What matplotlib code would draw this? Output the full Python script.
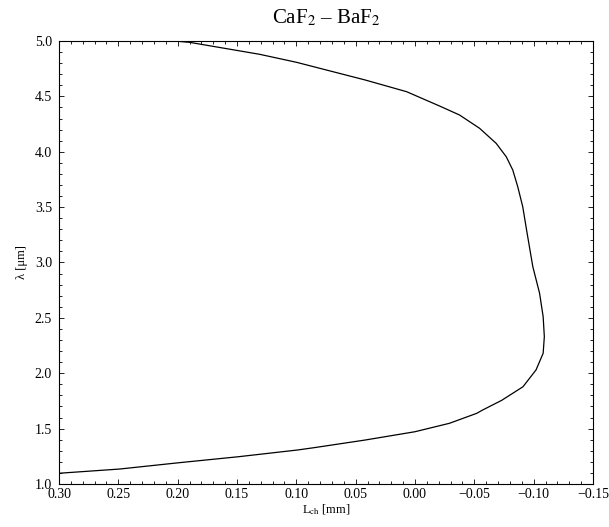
"""CaF2 - BaF2 : wavelength vs L_ch"""

import numpy as np
import matplotlib.pyplot as plt
from matplotlib.ticker import MultipleLocator

# curve (lambda in um, L_ch in mm)
wavelength = [1.097, 1.135, 1.192, 1.246, 1.307, 1.328, 1.397, 1.472, 1.548,
              1.638, 1.668, 1.755, 1.878, 2.030, 2.180, 2.330, 2.511, 2.722,
              2.962, 3.264, 3.504, 3.684, 3.835, 3.955, 4.076, 4.212,
              4.332, 4.413, 4.542, 4.648, 4.808, 4.880, 4.988, 5.000]
l_ch = [0.300, 0.249, 0.199, 0.149, 0.099, 0.085, 0.042, 0.000, -0.029,
        -0.052, -0.057, -0.073, -0.091, -0.102, -0.108, -0.109, -0.108, -0.105,
        -0.0993, -0.0945, -0.0908, -0.0866, -0.0824, -0.0769, -0.0684,
        -0.0544, -0.0375, -0.0207, 0.007, 0.042, 0.100, 0.131, 0.190, 0.203]

plt.rcParams['font.family'] = ['Liberation Serif', 'DejaVu Serif']
plt.rcParams['mathtext.fontset'] = 'stix'


def fmt_x(v, pos):
    if abs(v) < 1e-9:
        return '0.00'
    return ('%.2f' % v).replace('-', '\u2212')


def plot_curve():
    fig = plt.figure(figsize=(6.09, 5.27), dpi=100)
    ax = fig.add_axes([0.0969, 0.0816, 0.8768, 0.8406])

    ax.plot(l_ch, wavelength, color='black', linewidth=0.9)

    ax.set_xlim(0.30, -0.15)
    ax.set_ylim(1.0, 5.0)
    ax.xaxis.set_major_locator(MultipleLocator(0.05))
    ax.xaxis.set_minor_locator(MultipleLocator(0.01))
    ax.yaxis.set_major_locator(MultipleLocator(0.5))
    ax.yaxis.set_minor_locator(MultipleLocator(0.1))
    ax.xaxis.set_major_formatter(plt.FuncFormatter(fmt_x))
    ax.yaxis.set_major_formatter(plt.FuncFormatter(lambda v, p: '%.1f' % v))

    ax.tick_params(which='both', direction='in', top=True, right=True,
                   labelsize=10, width=0.6)
    ax.tick_params(axis='x', pad=3)
    ax.tick_params(axis='y', pad=5)
    ax.tick_params(which='major', length=3.5)
    ax.tick_params(which='minor', length=2)
    for s in ax.spines.values():
        s.set_linewidth(0.8)

    ax.set_title('CaF$_2$ \u2013 BaF$_2$', fontsize=15, pad=13)
    ax.set_xlabel(r'L$_{\rm ch}$ [mm]', fontsize=9, labelpad=1)
    ax.set_ylabel('\u03bb [\u03bcm]', fontsize=9, labelpad=5)

    fig.savefig('out.png', dpi=100)


if __name__ == '__main__':
    plot_curve()
